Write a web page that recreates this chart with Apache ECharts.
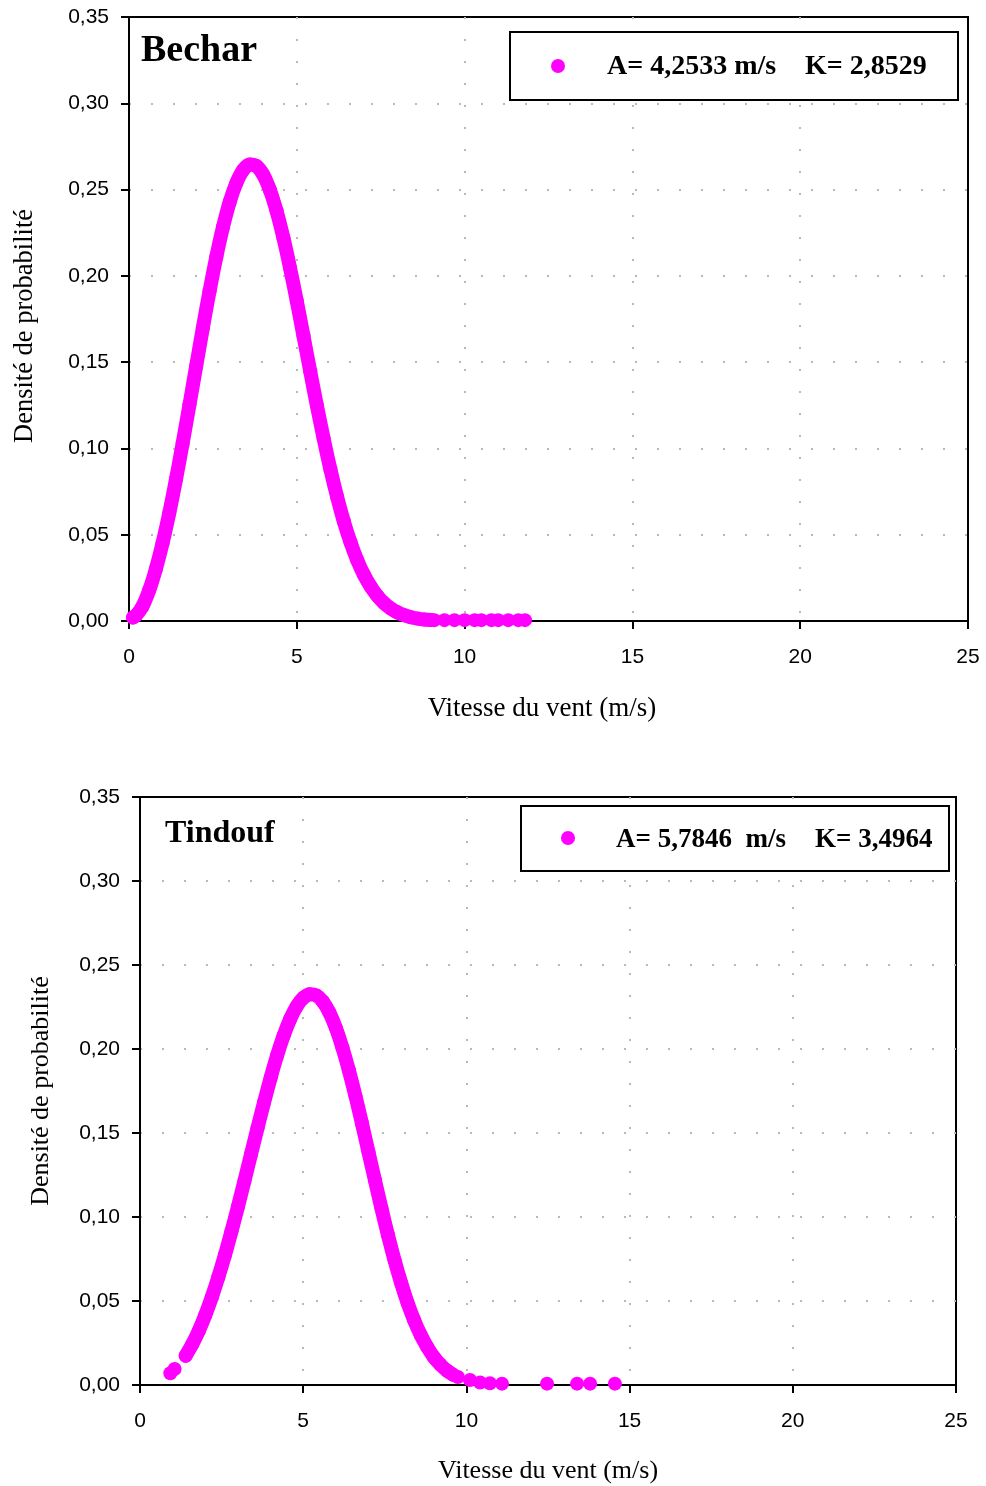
<!DOCTYPE html>
<html><head><meta charset="utf-8">
<script src="https://cdn.jsdelivr.net/npm/echarts@6/dist/echarts.min.js"></script>
<style>html,body{margin:0;padding:0;background:#fff}#c{width:986px;height:1486px}</style>
</head><body><div id="c"></div>
<script>
// ---------- data ----------
const xTickLabels = ['0', '5', '10', '15', '20', '25'];
const yTickLabels = ['0,00', '0,05', '0,10', '0,15', '0,20', '0,25', '0,30', '0,35'];

// Bechar : continuous part of the cloud of points
const becharCurveSpeed = [0.12,0.2,0.4,0.6,0.8,1.0,1.2,1.4,1.6,1.8,2.0,2.2,2.4,2.6,2.8,3.0,3.2,3.4,3.6,3.8,4.0,4.2,4.4,4.6,4.8,5.0,5.2,5.4,5.6,5.8,6.0,6.2,6.4,6.6,6.8,7.0,7.2,7.4,7.6,7.8,8.0,8.2,8.4,8.6,8.8,9.0];
const becharCurveDensity = [0.0020,0.0030,0.0084,0.0177,0.0301,0.0451,0.0626,0.0821,0.1031,0.1251,0.1475,0.1698,0.1911,0.2108,0.2282,0.2428,0.2539,0.2613,0.2645,0.2636,0.2586,0.2497,0.2374,0.2221,0.2045,0.1853,0.1651,0.1447,0.1247,0.1057,0.0880,0.0720,0.0578,0.0456,0.0353,0.0268,0.0200,0.0146,0.0104,0.0073,0.0050,0.0034,0.0022,0.0014,0.0009,0.0006];
// Bechar : points of the tail
const becharTailSpeed = [9.1,9.4,9.7,10.0,10.3,10.5,10.8,11.0,11.3,11.6,11.8];
const becharTailDensity = [0.0005,0.0005,0.0005,0.0005,0.0005,0.0005,0.0005,0.0005,0.0005,0.0005,0.0005];

// Tindouf : isolated points at the start
const tindoufHeadSpeed = [0.93,1.06];
const tindoufHeadDensity = [0.0070,0.0095];
// Tindouf : continuous part
const tindoufCurveSpeed = [1.4,1.6,1.8,2.0,2.2,2.4,2.6,2.8,3.0,3.2,3.4,3.6,3.8,4.0,4.2,4.4,4.6,4.8,5.0,5.2,5.4,5.6,5.8,6.0,6.2,6.4,6.6,6.8,7.0,7.2,7.4,7.6,7.8,8.0,8.2,8.4,8.6,8.8,9.0,9.2,9.4,9.6];
const tindoufCurveDensity = [0.0174,0.0242,0.0322,0.0416,0.0523,0.0642,0.0772,0.0913,0.1061,0.1215,0.1373,0.1529,0.1682,0.1827,0.1961,0.2079,0.2178,0.2254,0.2304,0.2326,0.2319,0.2283,0.2218,0.2126,0.2009,0.1873,0.1721,0.1557,0.1387,0.1217,0.1050,0.0890,0.0742,0.0608,0.0488,0.0385,0.0298,0.0226,0.0167,0.0122,0.0086,0.0060];
// Tindouf : isolated points of the tail
const tindoufTailSpeed = [9.74,10.11,10.42,10.72,11.09,12.47,13.39,13.79,14.55];
const tindoufTailDensity = [0.0048,0.0030,0.0015,0.0010,0.0008,0.0008,0.0008,0.0008,0.0008];

const becharLegend = ['A= 4,2533 m/s', 'K= 2,8529'];
const tindoufLegend = ['A= 5,7846  m/s', 'K= 3,4964'];
// ------------------------------------------------

const MAG = '#FF00FF';
const SERIF = '"Liberation Serif", "DejaVu Serif", serif';
const SANS = '"Liberation Sans", Arial, sans-serif';
const pairs = (xs, ys) => xs.map((x, i) => [x, ys[i]]);

const grids = [
  { left: 129, top: 17, width: 839, height: 604, show: true, borderColor: '#000', borderWidth: 2, backgroundColor: 'transparent' },
  { left: 140, top: 797, width: 816, height: 588, show: true, borderColor: '#000', borderWidth: 2, backgroundColor: 'transparent' }
];

function xAxisFor(gi, gap, fs, pad) {
  return {
    type: 'value', gridIndex: gi, min: 0, max: 25, interval: 5,
    name: 'Vitesse du vent (m/s)', nameLocation: 'middle', nameGap: gap,
    nameTextStyle: { fontFamily: SERIF, fontSize: fs, color: '#000', padding: pad },
    axisLine: { show: true, onZero: false, lineStyle: { color: '#000', width: 2 } },
    axisTick: { show: true, inside: false, length: 8, lineStyle: { color: '#000', width: 2 } },
    axisLabel: { margin: 26, fontFamily: SANS, fontSize: 21, color: '#000', formatter: (v) => xTickLabels[Math.round(v / 5)] },
    splitLine: { show: true, showMinLine: false, showMaxLine: false, lineStyle: { color: '#b8b8b8', width: 2, type: [2, 20] } }
  };
}
function yAxisFor(gi, gap, fs, pad) {
  return {
    type: 'value', gridIndex: gi, min: 0, max: 0.35, interval: 0.05,
    name: 'Densité de probabilité', nameLocation: 'middle', nameGap: gap, nameRotate: 90,
    nameTextStyle: { fontFamily: SERIF, fontSize: fs, color: '#000', padding: pad },
    axisLine: { show: true, onZero: false, lineStyle: { color: '#000', width: 2 } },
    axisTick: { show: true, inside: false, length: 8, lineStyle: { color: '#000', width: 2 } },
    axisLabel: { margin: 20, fontFamily: SANS, fontSize: 21, color: '#000', formatter: (v) => yTickLabels[Math.round(v / 0.05)] },
    splitLine: { show: true, showMinLine: false, showMaxLine: false, lineStyle: { color: '#b8b8b8', width: 2, type: [2, 20] } }
  };
}

function lineSeries(gi, data) {
  return {
    type: 'line', xAxisIndex: gi, yAxisIndex: gi, data: data, smooth: 0.3,
    symbol: 'none', silent: true, z: 2,
    lineStyle: { color: MAG, width: 14, cap: 'round', join: 'round' }
  };
}
function scatterSeries(gi, data) {
  return {
    type: 'scatter', xAxisIndex: gi, yAxisIndex: gi, data: data, symbol: 'circle', symbolSize: 14,
    itemStyle: { color: MAG, opacity: 1 }, silent: true, z: 3
  };
}

const chart = echarts.init(document.getElementById('c'), null, { renderer: 'canvas' });
chart.setOption({
  animation: false,
  backgroundColor: '#fff',
  grid: grids,
  xAxis: [xAxisFor(0, 74, 27, [0, 13, 0, 0]), xAxisFor(1, 73, 26, [0, 0, 0, 0])],
  yAxis: [yAxisFor(0, 90, 26.5, [0, 14, 0, 0]), yAxisFor(1, 86, 26, [0, 0, 0, 0])],
  series: [
    lineSeries(0, pairs(becharCurveSpeed, becharCurveDensity)),
    scatterSeries(0, pairs(becharCurveSpeed, becharCurveDensity).concat(pairs(becharTailSpeed, becharTailDensity))),
    lineSeries(1, pairs(tindoufCurveSpeed, tindoufCurveDensity)),
    scatterSeries(1, pairs(tindoufHeadSpeed, tindoufHeadDensity).concat(pairs(tindoufCurveSpeed, tindoufCurveDensity), pairs(tindoufTailSpeed, tindoufTailDensity)))
  ],
  graphic: [
    { type: 'text', left: 141, top: 32, z: 10, style: { text: 'Bechar', font: 'bold 38px ' + SERIF, fill: '#000' } },
    { type: 'rect', shape: { x: 510, y: 32, width: 448, height: 68 }, z: 10, style: { fill: '#fff', stroke: '#000', lineWidth: 2 } },
    { type: 'circle', shape: { cx: 558, cy: 66, r: 7 }, z: 11, style: { fill: MAG } },
    { type: 'text', x: 607, y: 67, z: 11, style: { text: becharLegend[0], font: 'bold 28px ' + SERIF, fill: '#000', verticalAlign: 'middle' } },
    { type: 'text', x: 805, y: 67, z: 11, style: { text: becharLegend[1], font: 'bold 28px ' + SERIF, fill: '#000', verticalAlign: 'middle' } },

    { type: 'text', left: 165, top: 818, z: 10, style: { text: 'Tindouf', font: 'bold 32px ' + SERIF, fill: '#000' } },
    { type: 'rect', shape: { x: 521, y: 806, width: 428, height: 65 }, z: 10, style: { fill: '#fff', stroke: '#000', lineWidth: 2 } },
    { type: 'circle', shape: { cx: 568, cy: 838, r: 7 }, z: 11, style: { fill: MAG } },
    { type: 'text', x: 616, y: 840, z: 11, style: { text: tindoufLegend[0], font: 'bold 27px ' + SERIF, fill: '#000', verticalAlign: 'middle' } },
    { type: 'text', x: 815, y: 840, z: 11, style: { text: tindoufLegend[1], font: 'bold 27px ' + SERIF, fill: '#000', verticalAlign: 'middle' } }
  ]
});
</script>
</body></html>
